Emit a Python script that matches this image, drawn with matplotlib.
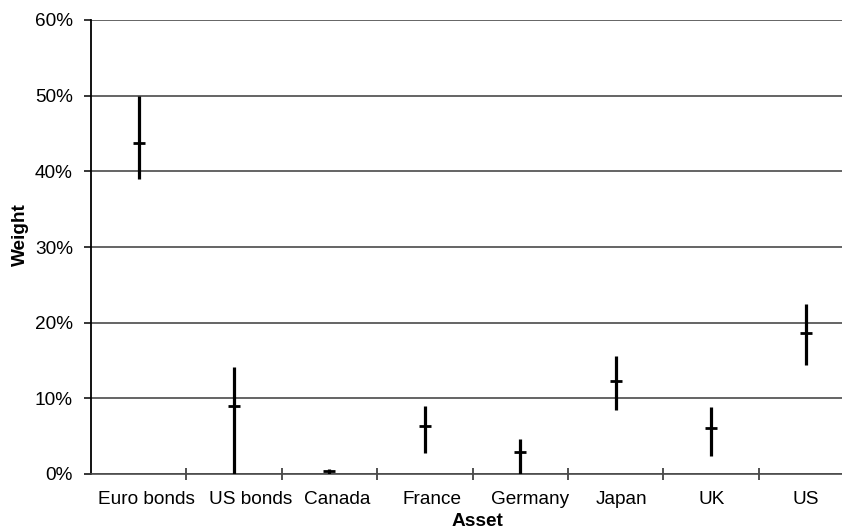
import matplotlib.pyplot as plt
from matplotlib.ticker import FuncFormatter, FixedLocator
from matplotlib.transforms import ScaledTranslation

plt.rcParams['font.family'] = ['Liberation Sans', 'DejaVu Sans']

assets = ["Euro bonds", "US bonds", "Canada", "France", "Germany", "Japan", "UK", "US"]
low = [39.0, 0.0, 0.0, 2.8, 0.0, 8.4, 2.4, 14.4]
high = [50.0, 14.1, 0.6, 9.0, 4.6, 15.6, 8.8, 22.5]
mean = [43.8, 9.0, 0.4, 6.3, 2.9, 12.3, 6.1, 18.6]

fig = plt.figure(figsize=(8.42, 5.32), dpi=100)
# axes runs slightly past the right edge, as in the cropped original
ax = fig.add_axes([91 / 842, 58 / 532, 763 / 842, 454 / 532])

xs = list(range(len(assets)))
ax.vlines(xs, low, high, color="black", linewidth=2.3, zorder=3)
ax.plot(xs, mean, linestyle="none", marker="_", markersize=8.5,
        markeredgewidth=2.0, color="black", zorder=4)

ax.set_xlim(-0.5, len(assets) - 0.5)
ax.set_ylim(0, 60)
ax.set_yticks(range(0, 61, 10))
ax.yaxis.set_major_formatter(FuncFormatter(lambda v, p: f"{v:.0f}%"))
ax.grid(axis="y", color="#4a4a4a", linewidth=1.2)
ax.set_axisbelow(True)

ax.set_xticks(xs)
ax.set_xticklabels(assets)
ax.xaxis.set_minor_locator(FixedLocator([i + 0.5 for i in range(len(assets))]))
ax.tick_params(axis="x", which="major", length=0, pad=12, labelsize=13.7)
ax.tick_params(axis="x", which="minor", direction="inout", length=8,
               width=1.2, color="#333333")
ax.tick_params(axis="y", length=5, width=1.1, pad=8, labelsize=13.7)

# category labels are nudged right in the original (pixels)
nudges = [8, 17, 8, 7, 10, 6, 1, -1]
for lab, dx in zip(ax.get_xticklabels(), nudges):
    lab.set_transform(lab.get_transform()
                      + ScaledTranslation(dx / 100, 0, fig.dpi_scale_trans))

for side in ("top", "right"):
    ax.spines[side].set_visible(False)
ax.spines["left"].set_linewidth(1.3)
ax.spines["bottom"].set_color("#4a4a4a")
ax.spines["bottom"].set_linewidth(1.2)

ax.set_xlabel("Asset", fontsize=13.7, fontweight="bold")
ax.xaxis.set_label_coords((477 - 91) / 763, -39 / 454)
ax.set_ylabel("Weight", fontsize=13.7, fontweight="bold")
ax.yaxis.set_label_coords(-62 / 763, 239 / 454)

fig.savefig("out.png", dpi=100)
